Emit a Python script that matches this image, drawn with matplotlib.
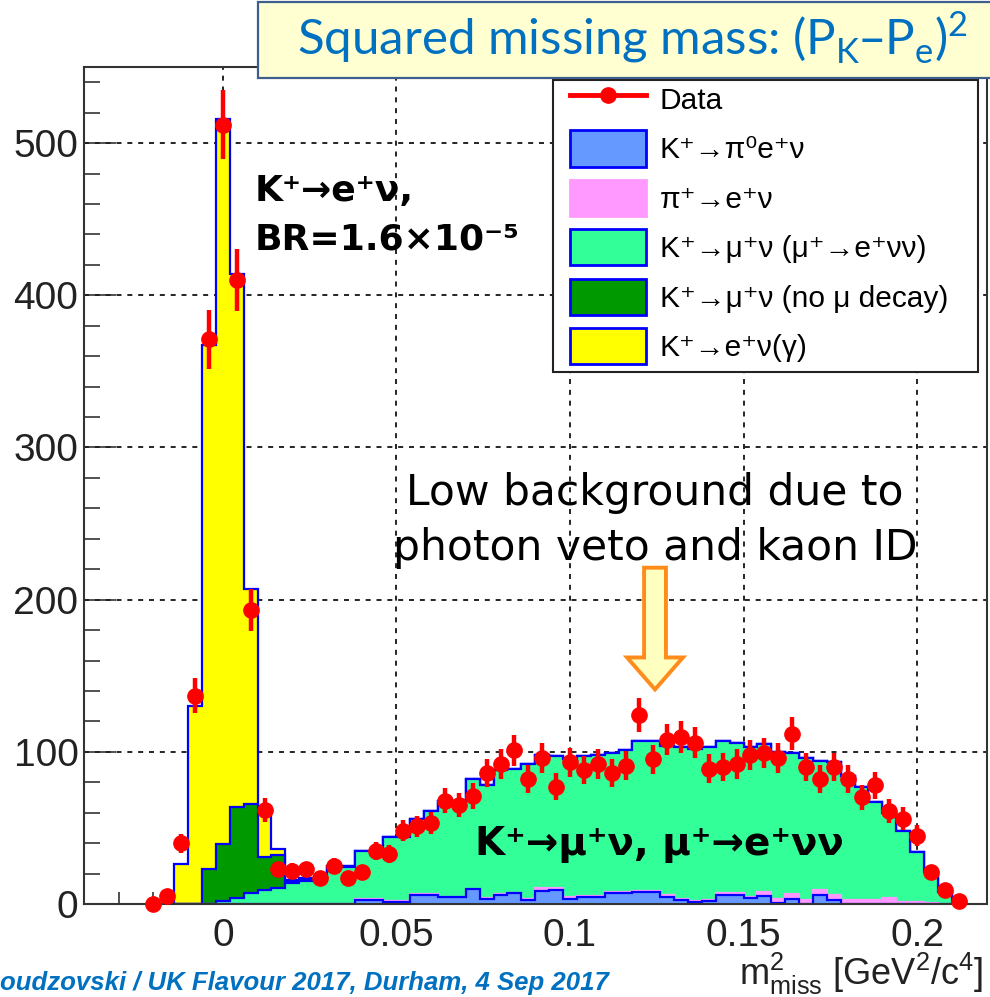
import numpy as np
import matplotlib
matplotlib.use('Agg')
import matplotlib.pyplot as plt
import matplotlib.patches as mpatches
from matplotlib.lines import Line2D
from matplotlib.ticker import MultipleLocator

# m2miss histogram: 0.004 GeV2/c4 bins, first bin centred at -0.020
bin_width = 0.004
first_centre = -0.020

data = [0, 5, 40, 137, 371, 512, 410, 193, 62, 23, 22, 23, 17, 25, 17, 21, 35, 33,
        48, 51, 53, 68, 65, 71, 86, 92, 101, 82, 96, 77, 93, 88, 92, 86, 91, 124,
        95, 108, 110, 106, 89, 90, 92, 98, 99, 96, 112, 90, 82, 90, 82, 70, 78, 61,
        56, 45, 21, 9, 2]

# MC components, bottom of the stack first
pi0_enu = [0, 0, 0, 0, 0, 0, 0, 0, 0, 0, 0, 0, 0, 0, 0, 2.6, 2.6, 1.5, 1.5, 6.0,
           6.0, 4.4, 4.4, 9.6, 3.3, 6.0, 7.0, 2.6, 8.8, 9.0, 3.5, 4.4, 4.4, 7.0, 7.0,
           8.0, 8.0, 4.8, 2.6, 1.0, 2.0, 6.0, 6.0, 3.8, 5.2, 0.5, 3.0, 0.3, 6.0, 2.6,
           0.3, 0.3, 0.3, 0, 0, 0, 0, 0, 0]
pi_enu = [0, 0, 0, 0, 0, 0, 0, 0, 0, 0, 0, 0, 0, 0, 0, 0.5, 0.5, 0.5, 0.5, 0.5,
          0.5, 0.5, 0.5, 0.5, 0.5, 0.5, 0.5, 0.5, 1.5, 1.5, 0.8, 0.8, 0.8, 0.8, 0.8,
          0.8, 0.8, 0.8, 0.8, 0.8, 0.8, 1.5, 1.5, 1.0, 2.8, 2.5, 3.6, 2.3, 3.2, 3.4,
          2.3, 2.3, 2.3, 4.0, 1.5, 1.5, 0.5, 0, 0]
mu_nu_edecay = [0, 0, 0, 0, 0, 2.0, 4.0, 7.0, 9.0, 10.5, 14.0, 15.0, 16.0, 24.4,
                24.4, 31.9, 31.9, 42.0, 42.0, 49.5, 54.5, 63.1, 63.1, 71.9, 74.2,
                81.5, 81.5, 88.9, 87.7, 86.5, 90.7, 91.8, 92.8, 91.2, 93.2, 98.2,
                98.2, 98.4, 99.6, 100.2, 100.2, 99.5, 98.5, 98.2, 97.0, 97.0, 92.4,
                93.4, 84.8, 87.0, 81.4, 74.4, 64.4, 56.0, 46.5, 32.5, 20.5, 8.0, 1.0]
mu_nu_nodecay = [0, 0, 0, 0, 23.0, 37.5, 60.0, 59.0, 22.0, 21.5, 1.0, 1.0, 0.5,
                 0.3, 0.3] + [0] * 44
e_nu = [0, 0, 26.0, 130.0, 344.0, 476.5, 350.0, 141.0, 30.0, 4.0, 1.0, 1.0, 0.5,
        0.3, 0.3] + [0] * 44

labels = ['Data', 'K⁺→π⁰e⁺ν', 'π⁺→e⁺ν', 'K⁺→μ⁺ν (μ⁺→e⁺νν)',
          'K⁺→μ⁺ν (no μ decay)', 'K⁺→e⁺ν(γ)']
fills = ['#6699ff', '#ff99ff', '#33ff99', '#009900', '#ffff00']
outlines = ['#0000ff', '#ff99ff', '#0000ff', '#0000ff', '#0000ff']

xticks = [0, 0.05, 0.1, 0.15, 0.2]
xticklabels = ['0', '0.05', '0.1', '0.15', '0.2']
yticks = [0, 100, 200, 300, 400, 500]

n = len(data)
centres = first_centre + bin_width * np.arange(n)
edges = np.append(centres - bin_width / 2, centres[-1] + bin_width / 2)
stack = np.cumsum([pi0_enu, pi_enu, mu_nu_edecay, mu_nu_nodecay, e_nu], axis=0)

plt.rcParams['font.family'] = ['Liberation Sans', 'DejaVu Sans']

W, H = 990, 997
fig = plt.figure(figsize=(W / 100, H / 100), dpi=100)
ax = fig.add_axes([84 / W, 1 - 904 / H, (986.5 - 84) / W, (904 - 67) / H])

# stacked MC, tallest first so each lower layer is painted over it
for i in reversed(range(len(fills))):
    ax.stairs(stack[i], edges, baseline=0, fill=True, facecolor=fills[i],
              edgecolor=outlines[i], lw=1.6, zorder=2)

err = ax.errorbar(centres, data, yerr=np.sqrt(data), fmt='o', color='#ff0000',
                  ms=11, elinewidth=3.2, capsize=0, zorder=5)
for art in err.get_children():
    art.set_clip_on(False)

ax.set_xlim(-0.04, 0.22)
ax.set_ylim(0, 550)
ax.set_xticks(xticks)
ax.set_xticklabels(xticklabels)
ax.set_yticks(yticks)
ax.xaxis.set_minor_locator(MultipleLocator(0.01))
ax.yaxis.set_minor_locator(MultipleLocator(20))
ax.tick_params(axis='both', which='both', direction='in', width=1.1,
               labelsize=28, colors='#222222')
ax.tick_params(axis='x', which='major', length=16.5, pad=10)
ax.tick_params(axis='x', which='minor', length=8.5)
ax.tick_params(axis='y', which='major', length=23, pad=4)
ax.tick_params(axis='y', which='minor', length=11.5)
ax.grid(True, which='major', color='black', lw=1.2, ls=(0, (3, 3.5)), zorder=1)
ax.set_axisbelow(True)
for sp in ax.spines.values():
    sp.set_linewidth(1.5)
    sp.set_color('#333333')

# legend: frame drawn separately so the side margins can be wider than top/bottom
ax.add_patch(mpatches.Rectangle((553 / W, 1 - 372 / H), 425 / W, 292 / H,
                                transform=fig.transFigure, clip_on=False,
                                facecolor='white', edgecolor='#222222', lw=1.5,
                                zorder=9))
handles = [Line2D([], [], color='#ff0000', lw=3.5, marker='o', ms=11)]
for i in range(len(fills)):
    handles.append(mpatches.Patch(facecolor=fills[i], edgecolor=outlines[i], lw=2))
leg = ax.legend(handles, labels, loc='upper left',
                bbox_to_anchor=(570 / W, 1 - 81 / H), bbox_transform=fig.transFigure,
                fontsize=21.5, handlelength=2.55, handleheight=1.48, handletextpad=0.45,
                labelspacing=0.45, borderpad=0, borderaxespad=0, frameon=False)
leg.set_zorder(10)

# physics annotations
bold = dict(family='DejaVu Sans', weight='bold', color='black')
ax.text(0.0092, 462, 'K⁺→e⁺ν,', va='baseline', fontsize=26, **bold)
ax.text(0.0092, 430, 'BR=1.6×10⁻⁵', va='baseline', fontsize=26, **bold)
ax.text(0.0726, 32, 'K⁺→μ⁺ν, μ⁺→e⁺νν', va='baseline', zorder=6, fontsize=28,
        **bold)
ax.text(0.1245, 262, 'Low background due to', ha='center', va='baseline',
        family='DejaVu Sans', fontsize=30.5)
ax.text(0.1245, 226, 'photon veto and kaon ID', ha='center', va='baseline',
        family='DejaVu Sans', fontsize=30.5)
ax.add_patch(mpatches.FancyArrow(0.1245, 221, 0, -80, width=0.0063,
                                 head_width=0.0161, head_length=21,
                                 length_includes_head=True, facecolor='#ffffc0',
                                 edgecolor='#ff8c1a', lw=2.8, zorder=7))

fig.text(983 / W, 1 - 985 / H,
         r'm$^\mathregular{2}_\mathregular{miss}$ [GeV$^\mathregular{2}$/c$^\mathregular{4}$]',
         ha='right', va='baseline', fontsize=26, color='#222222')

# header box
fig.patches.append(mpatches.Rectangle((258 / W, 1 - 78 / H), 740 / W, 76 / H,
                                      transform=fig.transFigure, facecolor='#ffffd2',
                                      edgecolor='#3d5f8c', lw=1.6, zorder=20))
fig.text(297 / W, 1 - 55 / H,
         r'Squared missing mass: (P$_\mathregular{K}$–P$_\mathregular{e}$)$^\mathregular{2}$',
         family='Lato', fontsize=35.5, color='#0070c0', va='baseline', zorder=21)

fig.text(0, 1 - 990 / H, 'oudzovski / UK Flavour 2017, Durham, 4 Sep 2017',
         fontsize=18.5, weight='bold', style='italic', color='#0070c0', va='baseline')

fig.savefig('out.png', dpi=100)
